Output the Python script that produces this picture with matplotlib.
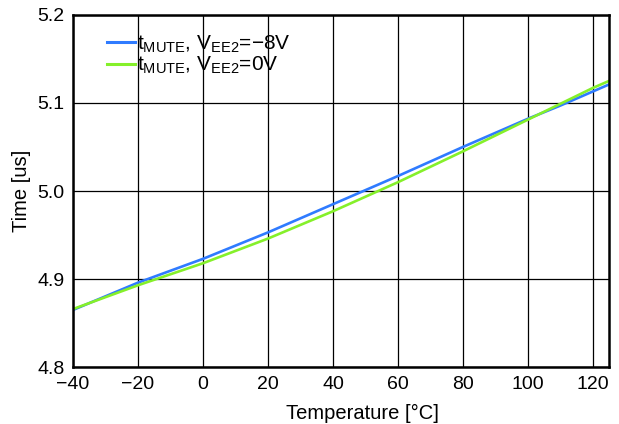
import matplotlib
matplotlib.use("Agg")
import matplotlib.pyplot as plt

plt.rcParams["font.family"] = ["Liberation Sans", "DejaVu Sans"]
plt.rcParams["mathtext.fontset"] = "custom"
plt.rcParams["mathtext.rm"] = "Liberation Sans"
plt.rcParams["mathtext.it"] = "Liberation Sans"

temp = [-40, -20, 0, 20, 40, 60, 80, 100, 110, 120, 125]
t_mute_m8 = [4.865, 4.896, 4.923, 4.953, 4.985, 5.017, 5.050, 5.082, 5.097, 5.113, 5.121]
t_mute_0 = [4.866, 4.893, 4.918, 4.946, 4.977, 5.010, 5.045, 5.081, 5.099, 5.117, 5.125]

xticks = [-40, -20, 0, 20, 40, 60, 80, 100, 120]
yticks = [4.8, 4.9, 5.0, 5.1, 5.2]

fig = plt.figure(figsize=(6.19, 4.24), dpi=100)
ax = fig.add_axes([0.118, 0.134, 0.866, 0.831])

ax.plot(temp, t_mute_m8, color="#2f7bff", lw=1.9,
        label="t$_{\\mathrm{MUTE}}$, V$_{\\mathrm{EE2}}$=\u22128V")
ax.plot(temp, t_mute_0, color="#85f02a", lw=1.9,
        label="t$_{\\mathrm{MUTE}}$, V$_{\\mathrm{EE2}}$=0V")

ax.set_xlim(-40, 125)
ax.set_ylim(4.8, 5.2)
ax.set_xticks(xticks)
ax.set_yticks(yticks)
ax.set_yticklabels([f"{v:.1f}" for v in yticks])
ax.set_xticklabels([str(v).replace("-", "\u2212") for v in xticks])
ax.tick_params(length=0, labelsize=14, pad=6)
ax.grid(True, color="black", lw=0.9)
for s in ax.spines.values():
    s.set_linewidth(1.8)

ax.set_xlabel("Temperature [\u00b0C]", fontsize=14.5, labelpad=3)
ax.xaxis.set_label_coords(0.54, -0.105)
ax.set_ylabel("Time [us]", fontsize=14.5, labelpad=5)

leg = ax.legend(loc="upper left", bbox_to_anchor=(0.04, 0.982), frameon=False,
                fontsize=15, handlelength=1.35, handletextpad=0.1,
                labelspacing=0.0, borderaxespad=0.2)
for line in leg.get_lines():
    line.set_linewidth(2.2)

fig.savefig("out.png", dpi=100)
